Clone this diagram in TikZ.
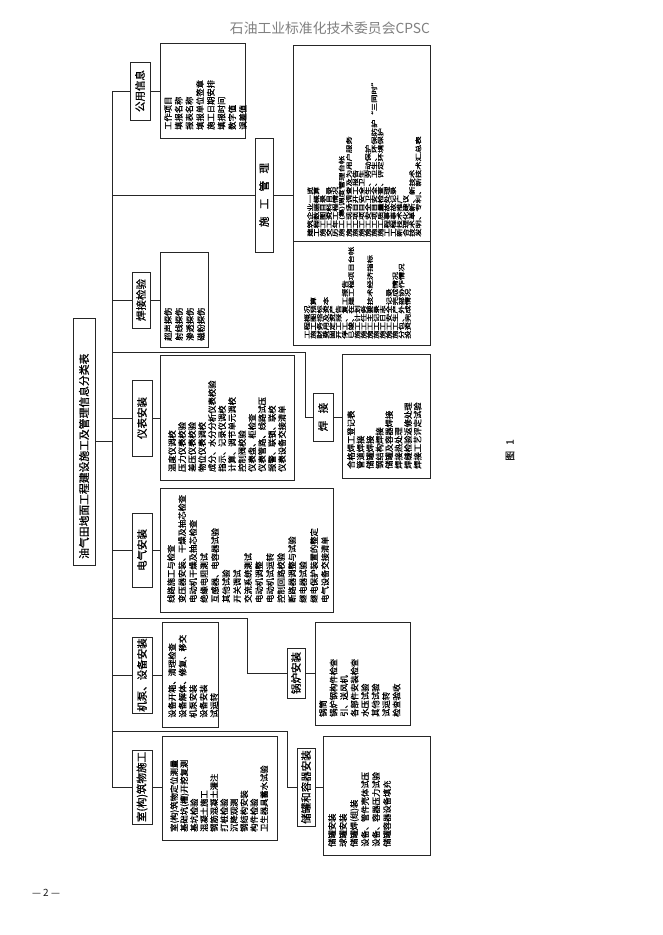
\documentclass[tikz,border=0pt]{standalone}
\usepackage{fontspec}
\setmainfont{Noto Sans CJK SC}
\newfontfamily\cjkb[FakeBold=0.8]{Noto Sans CJK SC}
\usetikzlibrary{calc}
\tikzset{
  box/.style={draw=black!85, line width=0.75pt, inner sep=0pt, outer sep=0pt},
  conn/.style={draw=black!85, line width=0.75pt},
  ctext/.style={rotate=90, inner sep=0pt, align=left, anchor=north west, text=black, font=\cjkb\fontsize{8.3}{#1}\selectfont},
  ntext/.style={rotate=90, xscale=1.35, inner sep=0pt, align=left, anchor=north west, text=black, font=\cjkb\fontsize{6.2}{#1}\selectfont},
  cat/.style={rotate=90, inner sep=0pt, text=black, font=\cjkb\fontsize{10.5}{12}\selectfont},
}
\newcommand\pbox[5]{\node[box, minimum width=#4pt-#2pt, minimum height=#5pt-#3pt] (#1) at ({(#2+#4)/2},{-(#3+#5)/2}) {};}
\begin{document}
\begin{tikzpicture}[x=1pt,y=1pt]
\fill[white] (0,0) rectangle (662,-935);
\useasboundingbox (0,0) rectangle (662,-935);

% page texts
\node[text=black!50, font=\fontsize{13.8}{15}\selectfont] (hdr) at (330,-28) {石油工业标准化技术委员会CPSC};
\node[font=\fontsize{10}{12}\selectfont, text=black!90] (pg) at (46,-893) {— 2 —};
\node[rotate=90, font=\cjkb\fontsize{10}{12}\selectfont, text=black!90] (fig) at (510,-450) {图\hspace{0.6em}1};

% boxes
\pbox{T}{73}{318}{95}{565}
\pbox{C1}{130}{62}{150}{120}
\pbox{B1}{160}{43}{245}{138}
\pbox{C2}{255}{138}{273}{252}
\pbox{B2a}{293}{45}{430}{241}
\pbox{B2b}{293}{241}{430}{345}
\pbox{C3}{132}{272}{150}{328}
\pbox{B3}{160}{252}{208}{347}
\pbox{C4}{313}{393}{333}{441}
\pbox{B4}{342}{354}{430}{478}
\pbox{C5}{132}{380}{152}{456}
\pbox{B5}{160}{355}{294}{480}
\pbox{C6}{132}{513}{152}{587}
\pbox{B6}{160}{488}{333}{612}
\pbox{C7}{287}{648}{305}{698}
\pbox{B7}{315}{622}{410}{725}
\pbox{C8}{132}{637}{152}{713}
\pbox{B8}{162}{622}{218}{727}
\pbox{C9}{297}{748}{315}{826}
\pbox{B9}{323}{736}{430}{855}
\pbox{C10}{132}{750}{152}{824}
\pbox{B10}{162}{736}{277}{840}

% title and category labels
\node[rotate=90, anchor=west, inner sep=0pt, text=black, font=\cjkb\fontsize{10.8}{12}\selectfont] (tt) at ($(T.south)+(0,6)$) {油气田地面工程建设施工及管理信息分类表};
\node[cat] (c1t) at (C1.center) {公用信息};
\node[cat] (c2t) at (C2.center) {施\hspace{0.7em}工\hspace{0.7em}管\hspace{0.7em}理};
\node[cat] (c3t) at (C3.center) {焊接检验};
\node[cat] (c4t) at (C4.center) {焊\hspace{0.7em}接};
\node[cat] (c5t) at (C5.center) {仪表安装};
\node[cat] (c6t) at (C6.center) {电气安装};
\node[cat] (c7t) at (C7.center) {锅炉安装};
\node[cat] (c8t) at (C8.center) {机泵、设备安装};
\node[cat] (c9t) at (C9.center) {储罐和容器安装};
\node[cat] (c10t) at (C10.center) {室(构)筑物施工};

% connectors
\coordinate (busT) at (112,-91);
\coordinate (busB) at (112,-787);
\draw[conn] (busT) -- (busB);
\draw[conn] (T.east) -- (T.east -| busT);
\draw[conn] (C1.west -| busT) -- (C1.west);
\draw[conn] (C1.east) -- (C1.east -| B1.west);
\draw[conn] (C2.west -| busT) -- (C2.west);
\draw[conn] (C2.east) -- (C2.east -| B2a.west);
\draw[conn] (C3.west -| busT) -- (C3.west);
\draw[conn] (C3.east) -- (C3.east -| B3.west);
\coordinate (j1) at (112,-352);
\coordinate (j1r) at (305,-352);
\draw[conn] (j1) -- (j1r) |- (C4.west);
\draw[conn] (C4.east) -- (C4.east -| B4.west);
\draw[conn] (C5.west -| busT) -- (C5.west);
\draw[conn] (C5.east) -- (C5.east -| B5.west);
\draw[conn] (C6.west -| busT) -- (C6.west);
\draw[conn] (C6.east) -- (C6.east -| B6.west);
\coordinate (j2) at (112,-618);
\coordinate (j2r) at (247,-618);
\draw[conn] (j2) -- (j2r) |- (C7.west);
\draw[conn] (C7.east) -- (C7.east -| B7.west);
\draw[conn] (C8.west -| busT) -- (C8.west);
\draw[conn] (C8.east) -- (C8.east -| B8.west);
\coordinate (j3) at (112,-731);
\coordinate (j3r) at (287,-731);
\draw[conn] (j3) -- (j3r) |- (C9.west);
\draw[conn] (C9.east) -- (C9.east -| B9.west);
\draw[conn] (C10.west -| busT) -- (C10.west);
\draw[conn] (C10.east) -- (C10.east -| B10.west);

% contents
\node[ctext=10.7] (t1) at ($(B1.south west)+(4,8)$) {工作项目\\填报名称\\报表名称\\填报单位签章\\施工日期安排\\填报时间\\数字值\\误差值};
\node[ntext=6.3] (t2a) at ($(B2a.south west)+(14,4)$) {建筑企业一览\\工程数据概算\\施工图目录\\交工资料目录\\历年工程情况\\施工(集)调度管理台帐\\施工现场调查及为用户服务\\施工项目开工报告\\施工项目安全卫生\\施工安全卫生、劳动保护\\施工项目安全、卫生、环保防护“三同时”\\施工质量检查、评定环境保护\\工程事故处理\\工程事故记录\\新技术推广\\合理化建议\\技术革新、新技术\\发明、专利、新技术汇总表};
\node[ntext=6.3] (t2b) at ($(B2b.south west)+(11,6)$) {工程概况\\施工图预算\\财务指标\\费用及资本\\固定资产\\开工报告\\停工、复工报告\\已竣、在建工程项目台帐\\施工计划\\施工任务\\施工主要技术经济指标\\施工记录\\施工日志\\施工安全记录\\施工生产完成情况\\分包、外部协作情况\\投资完成情况};
\node[ctext=11] (t3) at ($(B3.south west)+(4,6)$) {超声探伤\\射线探伤\\渗透探伤\\磁粉探伤};
\node[ctext=9.5] (t4) at ($(B4.south west)+(5,9)$) {合格焊工登记表\\管道焊接\\储罐焊接\\钢结构焊接\\储罐及容器焊接\\焊接热处理\\焊缝检验返修处理\\焊接工艺评定试验};
\node[ctext=10] (t5) at ($(B5.south west)+(8,8)$) {温度仪调校\\压力仪表校验\\差压仪表校验\\物位仪表调校\\成分、水分分析仪表校验\\指示、记录仪调校\\计算、调节单元调校\\控制阀校验\\仪表盘、柜检查\\仪表管路、线路试压\\报警、联锁、联校\\仪表设备交接清单};
\node[ctext=11] (t6) at ($(B6.south west)+(7,9)$) {线路施工与检查\\变压器安装、干燥及抽芯检查\\电动机干燥及抽芯检查\\绝缘电阻测试\\互感器、电容器试验\\其他试验\\开关调试\\交流系统测试\\电动机调整\\电动机试运转\\控制回路校验\\断路器调整与试验\\继电器试验\\继电保护装置的整定\\电气设备交接清单};
\node[ctext=10.5] (t7) at ($(B7.south west)+(4,8)$) {锅筒\\锅炉钢构件检查\\引、送风机\\各部件安装检查\\水压试验\\其他试验\\试运转\\检查验收};
\node[ctext=10.5] (t8) at ($(B8.south west)+(6,9)$) {设备开箱、清理检查\\设备解体、修复、移交\\机泵安装\\设备安装\\试运转};
\node[ctext=11] (t9) at ($(B9.south west)+(5,8)$) {储罐安装\\球罐安装\\储罐焊(组)装\\设备、管件壳体试压\\设备、容器压力试验\\储罐容器设备填充};
\node[ctext=10] (t10) at ($(B10.south west)+(8,8)$) {室(构)筑物定位测量\\基础坑(槽)开挖复测\\基坑检验\\混凝土施工\\钢筋混凝土灌注\\打桩检验\\沉降观测\\钢结构安装\\构件检验\\卫生器具蓄水试验};
\end{tikzpicture}
\end{document}
